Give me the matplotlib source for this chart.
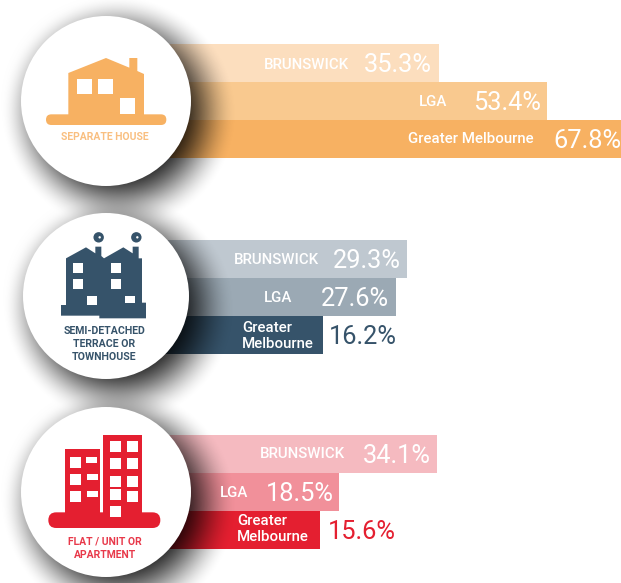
import numpy as np
import matplotlib
matplotlib.use("Agg")
import matplotlib.pyplot as plt
from matplotlib.patches import Polygon, Rectangle, Circle, FancyBboxPatch

plt.rcParams['font.family'] = ['Roboto', 'DejaVu Sans']

# ---- data ----
house_values = [35.3, 53.4, 67.8]
semi_values = [29.3, 27.6, 16.2]
flat_values = [34.1, 18.5, 15.6]
house_labels = ["BRUNSWICK", "LGA", "Greater Melbourne"]
semi_labels = ["BRUNSWICK", "LGA", "Greater\nMelbourne"]
flat_labels = ["BRUNSWICK", "LGA", "Greater\nMelbourne"]
house_title = "SEPARATE HOUSE"
semi_title = "SEMI-DETACHED\nTERRACE OR\nTOWNHOUSE"
flat_title = "FLAT / UNIT OR\nAPARTMENT"

# ---- style / layout ----
W, H = 621, 583
ORANGE = ["#FCDEBE", "#F9C98F", "#F7B162"]
NAVY = ["#BFC8D0", "#9BA9B4", "#36536A"]
RED = ["#F5BAC0", "#F1909A", "#E41F30"]
TXT_ORANGE, TXT_NAVY, TXT_RED = "#F9BF80", "#36536A", "#E8394A"
BAR_BASE = -15  # bars start hidden behind the circles

fig = plt.figure(figsize=(W / 100, H / 100), dpi=100, facecolor="white")

groups = [
    dict(vals=house_values, labs=house_labels, cols=ORANGE, top=44, zero=226.0, slope=6.02,
         lab_pos=[(349, 65), (447, 102), (534, 139)], outside=False),
    dict(vals=semi_values, labs=semi_labels, cols=NAVY, top=240, zero=218.3, slope=6.44,
         lab_pos=[(319, 260), (292, 298), (314, 336)], outside=True),
    dict(vals=flat_values, labs=flat_labels, cols=RED, top=435, zero=221.6, slope=6.32,
         lab_pos=[(345, 454), (248, 493), (309, 529)], outside=True),
]
val_dx = [[-7, -6, -12.5], [-6, -7, 6], [-6, -5, 8]]

for g, dxs in zip(groups, val_dx):
    ax = fig.add_axes([0, 1 - (g["top"] + 114) / H, 1, 114 / H], zorder=1)
    ax.set_xlim(-g["zero"] / g["slope"], (W - g["zero"]) / g["slope"])
    ax.set_ylim(3, 0)
    ax.axis("off")
    ypos = np.arange(3) + 0.5
    ax.barh(ypos, np.array(g["vals"]) - BAR_BASE, left=BAR_BASE, height=1.0,
            color=g["cols"], linewidth=0)
    for i, (v, y, dx) in enumerate(zip(g["vals"], ypos, dxs)):
        outside = g["outside"] and i == 2
        ax.annotate(f"{v}%", xy=(v, y), xytext=(dx * 0.72, -1.3), textcoords="offset points",
                    ha="left" if outside else "right", va="center", fontsize=18.3,
                    color=g["cols"][2] if outside else "white", annotation_clip=False)

# overlay in pixel coordinates
ov = fig.add_axes([0, 0, 1, 1], zorder=2)
ov.set_xlim(0, W)
ov.set_ylim(H, 0)
ov.axis("off")

yy, xx = np.mgrid[0:H, 0:W]
shadow = np.zeros((H, W))
circles = [(106, 101, 85), (106, 296, 83), (106, 492, 85)]
for cx, cy, r in circles:
    d = np.hypot(xx - cx - 13, yy - cy - 12)
    t = np.clip((r + 33 - d) / 66, 0, 1)
    a = 0.88 * t * t * (3 - 2 * t)
    d2 = np.hypot(xx - cx, yy - cy)
    t2 = np.clip((r + 28 - d2) / 38, 0, 1)
    a2 = 0.10 * t2 * t2
    shadow = 1 - (1 - shadow) * (1 - a) * (1 - a2)
rgba = np.zeros((H, W, 4))
rgba[..., 3] = shadow
ov.imshow(rgba, extent=(0, W, H, 0), interpolation="bilinear", aspect="auto", zorder=1)
ov.set_xlim(0, W)
ov.set_ylim(H, 0)
for cx, cy, r in circles:
    ov.add_patch(Circle((cx, cy), r, fc="white", ec="none", zorder=2))


def Z(pts, oy=0):
    return [(x / 3, oy + y / 3) for x, y in pts]


def poly(pts, color, oy=0):
    ov.add_patch(Polygon(Z(pts, oy), closed=True, fc=color, ec="none", zorder=3))


def rects(rs, oy=0, color="white", z=4):
    for x0, y0, x1, y1 in rs:
        ov.add_patch(Rectangle((x0 / 3, oy + y0 / 3), (x1 - x0) / 3, (y1 - y0) / 3,
                               fc=color, ec="none", zorder=z))


def pill(x0, y0, x1, y1, color, oy=0):
    h = (y1 - y0) / 3
    ov.add_patch(FancyBboxPatch((x0 / 3, oy + y0 / 3), (x1 - x0) / 3, h,
                                boxstyle=f"round,pad=0,rounding_size={h / 2}",
                                fc=color, ec="none", zorder=3))


# house icon
poly([(205, 346), (205, 219), (318, 174), (388, 203), (388, 174), (412, 174), (412, 213),
      (432, 222), (432, 346)], ORANGE[2])
pill(138, 343, 499, 375, ORANGE[2])
rects([(232, 237, 277, 282), (295, 237, 340, 282), (361, 294, 406, 343)])
ov.text(104.5, 136.5, house_title, ha="center", va="center", fontsize=7.5, fontweight="bold",
        color=TXT_ORANGE, zorder=5)

# semi-detached icon
oy = 200
poly([(183, 347), (183, 315), (198, 315), (198, 175), (258, 142), (286, 160), (286, 140),
      (304, 140), (304, 168), (312, 175), (370, 142), (398, 160), (398, 140), (416, 140),
      (416, 175), (426, 175), (426, 308), (438, 308), (438, 355), (298, 355), (298, 347)],
     NAVY[2], oy)
rects([(220, 188, 250, 218), (220, 236, 250, 267), (333, 188, 364, 218),
       (333, 236, 364, 267), (261, 288, 292, 316), (376, 288, 406, 308)], oy)
for sx in (296, 409):
    ov.add_patch(Circle((sx / 3, oy + 112 / 3), 5.2, fc=NAVY[2], ec="none", zorder=3))
    ov.add_patch(Circle(((sx + 3) / 3, oy + 112 / 3), 1.2, fc="white", ec="none", zorder=4))
ov.text(104.5, 344, semi_title, ha="center", va="center", fontsize=7.6, fontweight="bold",
        color=TXT_NAVY, linespacing=1.38, zorder=5)

# flat icon
oy = 393
rects([(196, 168, 301, 360), (310, 126, 427, 360)], oy, RED[2], 3)
pill(145, 358, 481, 405, RED[2], oy)
rects([(211, 192, 244, 225), (211, 243, 244, 276), (211, 294, 244, 327),
       (259, 192, 292, 210), (262, 243, 295, 261), (262, 294, 295, 312),
       (331, 144, 364, 177), (382, 144, 415, 177), (331, 195, 364, 228), (382, 195, 415, 228),
       (331, 249, 364, 282), (382, 249, 415, 282), (331, 288, 364, 321), (382, 294, 415, 327),
       (331, 339, 364, 372)], oy)
ov.text(105, 548, flat_title, ha="center", va="center", fontsize=7.5, fontweight="bold",
        color=TXT_RED, linespacing=1.38, zorder=5)

# category labels
for g in groups:
    for lab, (x, y) in zip(g["labs"], g["lab_pos"]):
        ov.text(x, y, lab, ha="right", va="center", fontsize=10.8, color="white",
                fontweight="medium", linespacing=1.25, multialignment="left", zorder=5)

fig.savefig("out.png", dpi=100)
